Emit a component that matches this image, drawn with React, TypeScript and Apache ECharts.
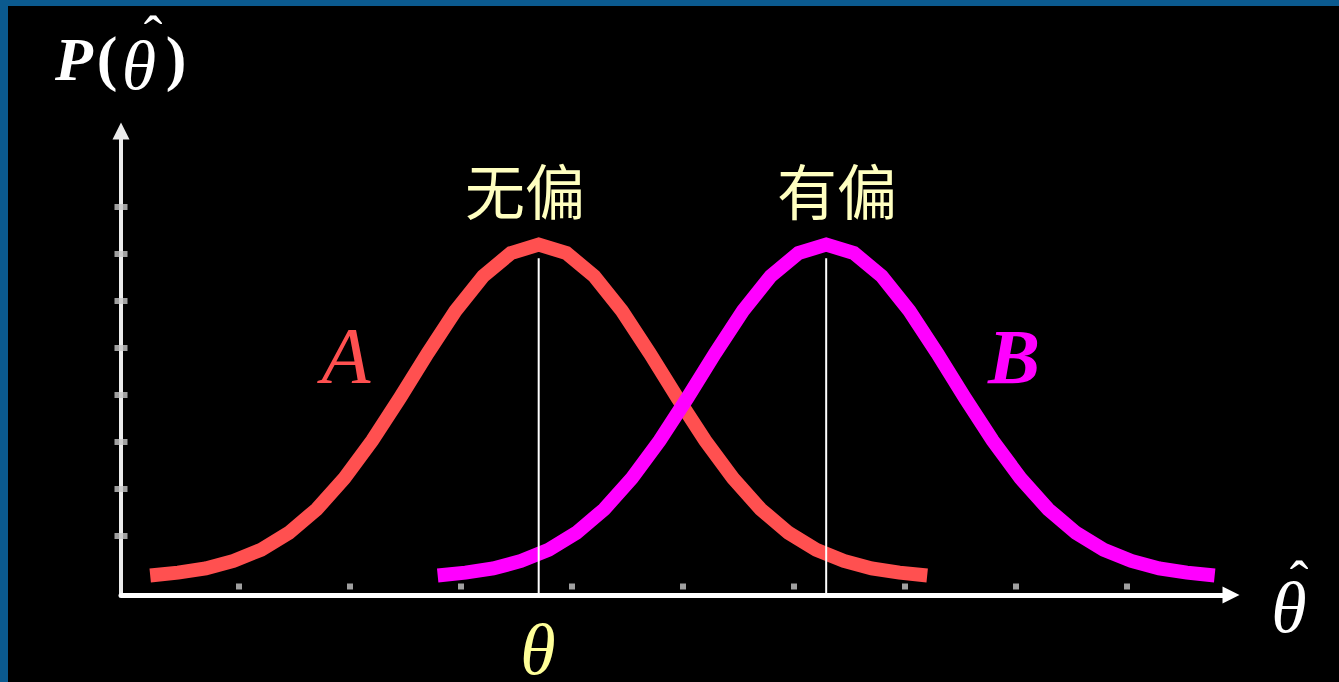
import React, { useEffect, useRef } from "react";
import * as echarts from "echarts";

// θ̂ positions (x units) and density values (y units)
const thetaA = [0.2, 0.45, 0.7, 0.95, 1.2, 1.45, 1.7, 1.95, 2.2, 2.45, 2.7, 2.95, 3.2, 3.45, 3.7, 3.95, 4.2, 4.45, 4.7, 4.95, 5.2, 5.45, 5.7, 5.95, 6.2, 6.45, 6.7, 6.95, 7.2];
const densityA = [0.16, 0.22, 0.31, 0.47, 0.71, 1.07, 1.57, 2.23, 3.03, 3.94, 4.89, 5.79, 6.53, 7.02, 7.2, 7.02, 6.53, 5.79, 4.89, 3.94, 3.03, 2.23, 1.57, 1.07, 0.71, 0.47, 0.31, 0.22, 0.16];
const thetaB = [2.79, 3.04, 3.29, 3.54, 3.79, 4.04, 4.29, 4.54, 4.79, 5.04, 5.29, 5.54, 5.79, 6.04, 6.29, 6.54, 6.79, 7.04, 7.29, 7.54, 7.79, 8.04, 8.29, 8.54, 8.79, 9.04, 9.29, 9.54, 9.79];
const densityB = [0.16, 0.22, 0.31, 0.47, 0.71, 1.07, 1.57, 2.23, 3.03, 3.94, 4.89, 5.79, 6.53, 7.02, 7.2, 7.02, 6.53, 5.79, 4.89, 3.94, 3.03, 2.23, 1.57, 1.07, 0.71, 0.47, 0.31, 0.22, 0.16];
const peakLines = [3.7, 6.29];
const peakLineTop = 6.91;
const yTickValues = [1, 2, 3, 4, 5, 6, 7, 8];
const xTickValues = [1, 2, 3, 4, 5, 6, 7, 8, 9];
const X_MIN = -0.063;
const X_MAX = 9.937;
const Y_MIN = -0.255;
const Y_MAX = 9.617;
const X_DOT_Y = -0.074;

const SERIF = "'Liberation Serif', 'DejaVu Serif', serif";
const CJK = "'Noto Sans CJK SC', sans-serif";

export default function App() {
  const ref = useRef<HTMLDivElement>(null);
  useEffect(() => {
    document.body.style.margin = "0";
    const chart = echarts.init(ref.current!, null, { renderer: "svg" });
    const peakSeries = peakLines.map((x) => ({
      type: "line",
      data: [
        [x, Y_MIN],
        [x, peakLineTop],
      ],
      symbol: "none",
      lineStyle: { color: "#ffffff", width: 2 },
      z: 5,
      silent: true,
    }));
    const txt = (x: number, y: number, text: string, fill: string, font: string, lineHeight?: number) => ({
      type: "text",
      x,
      y,
      style: { text, fill, font, textAlign: "center", textVerticalAlign: "middle", ...(lineHeight ? { lineHeight } : {}) },
      z: 50,
    });
    const option: any = {
      animation: false,
      backgroundColor: "#000000",
      grid: { left: 121, right: 108, top: 131, bottom: 87 },
      xAxis: {
        type: "value",
        min: X_MIN,
        max: X_MAX,
        axisLine: {
          onZero: false,
          symbol: ["none", "triangle"],
          symbolSize: [17, 17],
          lineStyle: { color: "#ffffff", width: 5 },
        },
        axisTick: { show: false },
        axisLabel: { show: false },
        splitLine: { show: false },
      },
      yAxis: {
        type: "value",
        min: Y_MIN,
        max: Y_MAX,
        axisLine: {
          onZero: false,
          symbol: ["none", "triangle"],
          symbolSize: [17, 17],
          lineStyle: { color: "#ececec", width: 4 },
        },
        axisTick: { show: false },
        axisLabel: { show: false },
        splitLine: { show: false },
      },
      series: [
        {
          type: "line",
          data: thetaA.map((x, i) => [x, densityA[i]]),
          symbol: "none",
          lineStyle: { color: "#ff5050", width: 14, cap: "butt", join: "miter" },
          z: 3,
        },
        {
          type: "line",
          data: thetaB.map((x, i) => [x, densityB[i]]),
          symbol: "none",
          lineStyle: { color: "#ff00ff", width: 14, cap: "butt", join: "miter" },
          z: 4,
        },
        ...peakSeries,
        {
          type: "scatter",
          data: yTickValues.map((v) => [X_MIN, v]),
          symbol: "rect",
          symbolSize: [13, 6],
          itemStyle: { color: "#c8c8c8" },
          z: 6,
        },
        {
          type: "scatter",
          data: xTickValues.map((v) => [v, X_DOT_Y]),
          symbol: "rect",
          symbolSize: [6, 6],
          itemStyle: { color: "#c8c8c8" },
          z: 6,
        },
      ],
      graphic: [
        { type: "rect", shape: { x: 0, y: 0, width: 8, height: 682 }, style: { fill: "#0b5a8f" }, z: 100 },
        { type: "rect", shape: { x: 0, y: 0, width: 1339, height: 6 }, style: { fill: "#0b5a8f" }, z: 100 },
        txt(74, 59, "P", "#ffffff", `italic bold 62px ${SERIF}`),
        txt(107, 58, "(", "#ffffff", `bold 62px ${SERIF}`),
        txt(139, 65, "θ", "#ffffff", `italic 70px ${SERIF}`, 50),
        txt(153, 36, "ˆ", "#ffffff", `56px ${SERIF}`, 8),
        txt(176, 58, ")", "#ffffff", `bold 62px ${SERIF}`),
        txt(1289, 608, "θ", "#ffffff", `italic 72px ${SERIF}`, 46),
        txt(1299, 581, "ˆ", "#ffffff", `56px ${SERIF}`, 8),
        txt(538, 650, "θ", "#ffff99", `italic 72px ${SERIF}`, 54),
        txt(525, 188, "无偏", "#ffffc0", `60px ${CJK}`),
        txt(837, 188, "有偏", "#ffffc0", `60px ${CJK}`),
        txt(346, 356, "A", "#ff5050", `italic 80px ${SERIF}`),
        txt(1014, 356, "B", "#ff00ff", `italic bold 78px ${SERIF}`),
      ],
    };
    chart.setOption(option);
    return () => chart.dispose();
  }, []);
  return <div ref={ref} style={{ width: 1339, height: 682 }} />;
}
